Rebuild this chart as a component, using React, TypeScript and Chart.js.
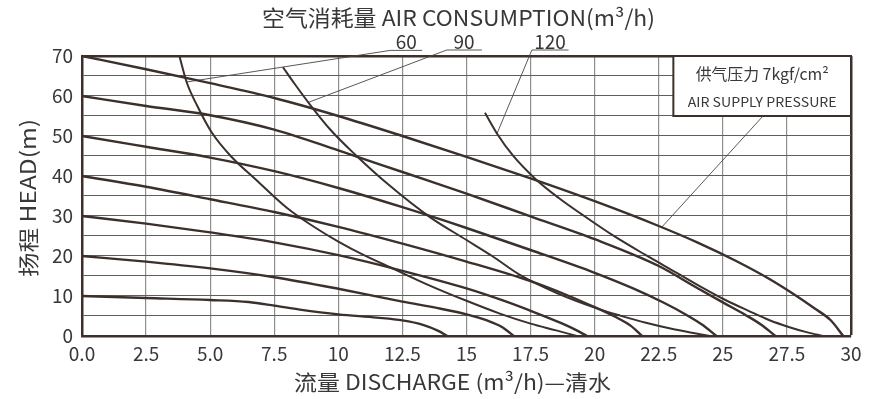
import React, { useEffect, useRef } from "react";
import { Chart, registerables } from "chart.js";

Chart.register(...registerables);

// ---------- axis ticks ----------
const xTickValues = [0, 2.5, 5, 7.5, 10, 12.5, 15, 17.5, 20, 22.5, 25, 27.5, 30];
const xTickLabels = ["0.0", "2.5", "5.0", "7.5", "10", "12.5", "15", "17.5", "20", "22.5", "25", "27.5", "30"];
const yTickLabels = ["0", "10", "20", "30", "40", "50", "60", "70"];

// ---------- pressure curves (flow m3/h, head m) ----------
const head10 = [[0, 10], [2.5, 9.5], [5, 9.0], [6.5, 8.5], [7.5, 7.6], [8.5, 6.6], [10, 5.4], [11.5, 4.6], [12.5, 3.9], [13.3, 2.8], [13.9, 1.3], [14.25, 0]];
const head20 = [[0, 20], [2.5, 18.6], [5, 16.9], [7.5, 14.7], [10, 11.8], [12.5, 8.6], [14, 6.8], [15, 5.4], [15.8, 3.9], [16.4, 2.2], [16.84, 0]];
const head30 = [[0, 30], [2.5, 28.1], [5, 25.9], [7.5, 23.4], [10, 20.2], [12.5, 16.3], [15, 11.9], [16.5, 8.7], [17.7, 5.8], [18.7, 3.2], [19.3, 1.4], [19.7, 0]];
const head40 = [[0, 40], [2.5, 37.3], [5, 34.2], [7.5, 31], [10, 27.3], [12.5, 23.1], [15, 18.6], [17.5, 13.7], [19, 10], [20, 7.2], [20.8, 4.8], [21.4, 2.6], [21.85, 0]];
const head50 = [[0, 50], [2.5, 47.3], [5, 44.6], [7.5, 41.2], [10, 37], [12.5, 32.2], [15, 27], [17.5, 21.5], [20, 15.8], [21.5, 11.9], [22.7, 8.3], [23.6, 5.2], [24.2, 2.8], [24.75, 0]];
const head60 = [[0, 60], [2.5, 57.5], [5, 55.2], [7.5, 51.6], [10, 46.4], [12.5, 41], [15, 35.6], [17.5, 29.9], [20, 24.2], [22.5, 17.5], [24, 12], [25, 8.4], [25.9, 5.2], [26.5, 2.8], [27.05, 0]];
const head70 = [[0, 70], [2.5, 66.7], [5, 63.2], [7.5, 59.5], [10, 55], [12.5, 50], [15, 44.8], [17.5, 39.4], [20, 33.7], [22.5, 27.5], [24, 23.4], [25.5, 18.8], [26.8, 14.3], [27.8, 10.3], [28.6, 6.8], [29.2, 4.0], [29.7, 0]];

// ---------- air consumption curves (m3/h) ----------
const air60 = [[3.8, 70], [4.08, 63.5], [4.5, 57.5], [5.05, 51], [5.8, 45], [6.8, 39], [8, 32], [9, 27.5], [10, 23.6], [11, 20.2], [12.15, 16.8], [13.5, 12.8], [15, 8.8], [16.3, 5.6], [17.5, 3.1], [18.5, 1.4], [19.3, 0]];
const air90 = [[7.84, 67.2], [8.3, 63], [8.9, 57.8], [9.7, 51.5], [10.6, 45.7], [12, 37.6], [13.6, 29.6], [15, 24], [16, 20], [17.1, 15.2], [18.5, 10.8], [20, 7.1], [21, 5.1], [22, 3.3], [23, 1.8], [23.8, 0.8], [24.5, 0]];
const air120 = [[15.72, 55.8], [16.2, 50.5], [16.8, 45.2], [17.7, 39.2], [18.6, 34.5], [19.5, 30.4], [20.7, 25.2], [22, 20.2], [23.2, 15.8], [24.2, 12.1], [25.1, 9], [26, 6.3], [26.8, 4], [27.6, 2.2], [28.3, 0.9], [28.9, 0]];

// ---------- callout leader lines (data units) ----------
const leader60 = [[13.27, 71.4], [12.02, 71.4], [4.08, 63.5]];
const leader90 = [[15.6, 71.5], [14.23, 71.5], [8.83, 58.4]];
const leader120 = [[18.98, 71.5], [17.55, 71.5], [16.19, 50.6]];
const leaderPressure = [[26.54, 54.8], [22.63, 27.3]];
const airLabels = ["60", "90", "120"];
const airLabelFlow = [12.65, 14.9, 18.26];
const airLabelHead = 71.4;
const pressureBox = { x0: 23.07, x1: 30, y0: 55, y1: 70 };

const titleText = "空气消耗量 AIR CONSUMPTION(m³/h)";
const xTitleText = "流量 DISCHARGE (m³/h)—清水";
const yTitleText = "扬程 HEAD(m)";
const boxLine1 = "供气压力 7kgf/cm²";
const boxLine2 = "AIR SUPPLY PRESSURE";

const INK = "#3b302b";
const TEXT = "#383838";
const FONT = "'Noto Sans CJK SC', sans-serif";

const toPts = (arr: number[][]) => arr.map(([x, y]) => ({ x, y }));

function fitText(ctx: CanvasRenderingContext2D, text: string, x: number, y: number, size: number, width: number) {
  ctx.font = `${size}px ${FONT}`;
  const w = ctx.measureText(text).width || 1;
  ctx.save();
  ctx.translate(x, y);
  ctx.scale(width / w, 1);
  ctx.fillText(text, 0, 0);
  ctx.restore();
}

export default function App() {
  const ref = useRef<HTMLCanvasElement | null>(null);

  useEffect(() => {
    if (!ref.current) return;

    const curve = (d: number[][], w: number) => ({
      data: toPts(d),
      borderColor: INK,
      borderWidth: w,
      pointRadius: 0,
      fill: false,
      cubicInterpolationMode: "monotone" as const,
      clip: false as any,
    });
    const leader = (d: number[][]) => ({
      data: toPts(d),
      borderColor: "#4a4440",
      borderWidth: 0.9,
      pointRadius: 0,
      fill: false,
      tension: 0,
      clip: false as any,
    });

    const textPlugin = {
      id: "extraText",
      afterDatasetsDraw(chart: any) {
        const { ctx, scales } = chart;
        const xs = scales.x;
        const ys = scales.y;
        ctx.save();
        // pressure box
        const bx0 = xs.getPixelForValue(pressureBox.x0);
        const bx1 = xs.getPixelForValue(pressureBox.x1);
        const by0 = ys.getPixelForValue(pressureBox.y1);
        const by1 = ys.getPixelForValue(pressureBox.y0);
        ctx.fillStyle = "#ffffff";
        ctx.fillRect(bx0, by0, bx1 - bx0, by1 - by0);
        ctx.strokeStyle = INK;
        ctx.lineWidth = 2;
        ctx.strokeRect(bx0, by0, bx1 - bx0, by1 - by0);
        ctx.fillStyle = TEXT;
        ctx.textAlign = "center";
        ctx.textBaseline = "middle";
        const bcx = (bx0 + bx1) / 2;
        fitText(ctx, boxLine1, bcx, by0 + 18, 16, 133);
        fitText(ctx, boxLine2, bcx, by0 + 46, 13.5, 149);

        // air consumption labels
        ctx.font = `19px ${FONT}`;
        ctx.textBaseline = "bottom";
        airLabels.forEach((t, i) => {
          ctx.fillText(t, xs.getPixelForValue(airLabelFlow[i]), ys.getPixelForValue(airLabelHead) + 1);
        });

        // titles
        ctx.textBaseline = "middle";
        fitText(ctx, titleText, 458.5, 18, 22, 393);
        fitText(ctx, xTitleText, 452.5, 382, 21, 317);
        ctx.save();
        ctx.translate(28, 198);
        ctx.rotate(-Math.PI / 2);
        fitText(ctx, yTitleText, 0, 0, 21, 158);
        ctx.restore();
        ctx.restore();
      },
    };

    const chart = new Chart(ref.current, {
      type: "line",
      data: {
        datasets: [
          curve(head10, 2.4),
          curve(head20, 2.4),
          curve(head30, 2.4),
          curve(head40, 2.4),
          curve(head50, 2.4),
          curve(head60, 2.4),
          curve(head70, 2.4),
          curve(air60, 2.0),
          curve(air90, 2.0),
          curve(air120, 2.0),
          leader(leader60),
          leader(leader90),
          leader(leader120),
          leader(leaderPressure),
        ] as any,
      },
      options: {
        animation: false,
        responsive: true,
        maintainAspectRatio: false,
        layout: { padding: { top: 56, right: 20, left: 0, bottom: 0 } },
        plugins: { legend: { display: false }, tooltip: { enabled: false }, title: { display: false } },
        scales: {
          x: {
            type: "linear",
            min: 0,
            max: 30,
            afterBuildTicks: (s: any) => {
              s.ticks = xTickValues.map((v) => ({ value: v }));
            },
            afterFit: (s: any) => {
              s.height = 63;
            },
            ticks: {
              autoSkip: false,
              maxRotation: 0,
              padding: 6,
              color: TEXT,
              font: { family: FONT, size: 19 },
              callback: (_v: any, i: number) => xTickLabels[i],
            },
            grid: {
              drawTicks: false,
              color: (c: any) => (c.tick && c.tick.value === 30 ? INK : "#8e8e8e"),
              lineWidth: (c: any) => (c.tick && c.tick.value === 30 ? 2.5 : 1.2),
            },
            border: { display: true, color: INK, width: 2.5 },
          },
          y: {
            type: "linear",
            min: 0,
            max: 70,
            afterFit: (s: any) => {
              s.width = 82;
            },
            ticks: {
              stepSize: 5,
              autoSkip: false,
              padding: 9,
              color: TEXT,
              font: { family: FONT, size: 19 },
              callback: (v: any) => (Number(v) % 10 === 0 ? yTickLabels[Number(v) / 10] : ""),
            },
            grid: {
              drawTicks: false,
              color: (c: any) => (c.tick && c.tick.value === 70 ? INK : "#5e5e5e"),
              lineWidth: (c: any) => (c.tick && c.tick.value === 70 ? 2.5 : 1.1),
            },
            border: { display: true, color: INK, width: 2.5 },
          },
        },
      },
      plugins: [textPlugin],
    });
    return () => chart.destroy();
  }, []);

  return (
    <div style={{ position: "fixed", left: 0, top: 0, width: 871, height: 399, background: "#fff" }}>
      <canvas ref={ref} />
    </div>
  );
}
